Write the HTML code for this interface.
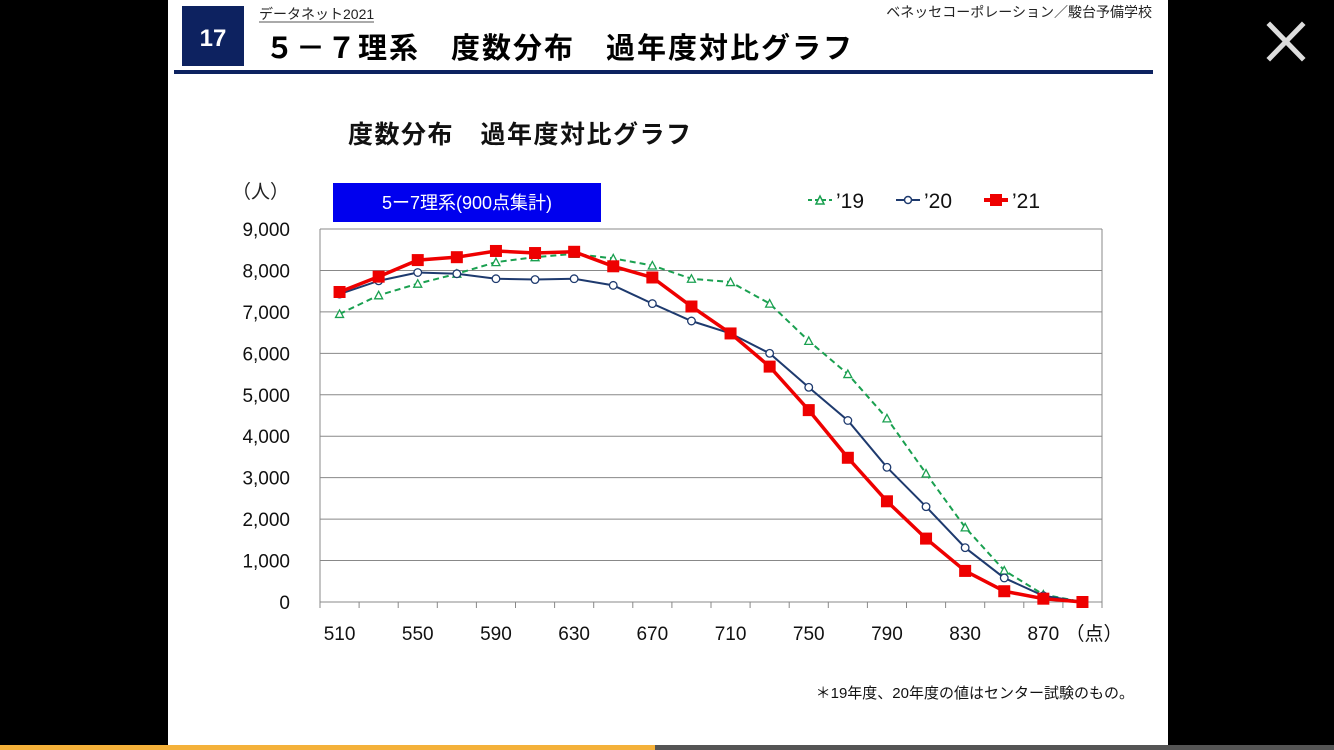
<!DOCTYPE html>
<html><head><meta charset="utf-8"><style>
body{margin:0;width:1334px;height:750px;background:#000;overflow:hidden;font-family:"Liberation Sans","Noto Sans CJK JP",sans-serif;}
</style></head><body>
<svg width="1334" height="750" xmlns="http://www.w3.org/2000/svg" style="position:absolute;left:0;top:0" font-family="Liberation Sans, Noto Sans CJK JP, sans-serif">
<rect x="168" y="0" width="1000" height="750" fill="#fff"/>
<rect x="0" y="745" width="655" height="5" fill="#f4b13a"/>
<rect x="655" y="745" width="679" height="5" fill="#555"/>
<g stroke="#ddd" stroke-width="5" stroke-linecap="square"><line x1="1270" y1="25" x2="1302" y2="58"/><line x1="1302" y1="25" x2="1270" y2="58"/></g>
<rect x="182" y="6" width="62" height="60" fill="#0d2260"/>
<text x="213" y="46" font-size="24" font-weight="bold" fill="#fff" text-anchor="middle">17</text>
<text x="259" y="19" font-size="14" fill="#222">データネット2021</text>
<line x1="259" y1="22" x2="374" y2="22" stroke="#555" stroke-width="1"/>
<text x="1152" y="17" font-size="14" fill="#222" text-anchor="end">ベネッセコーポレーション／駿台予備学校</text>
<text x="265" y="58" font-size="29" font-weight="bold" fill="#000" letter-spacing="2">５－７理系　度数分布　過年度対比グラフ</text>
<rect x="174" y="70" width="979" height="4" fill="#0d2260"/>
<text x="348" y="143" font-size="25" font-weight="bold" fill="#111" letter-spacing="1.5">度数分布　過年度対比グラフ</text>
<text x="232" y="198" font-size="19" fill="#222">（人）</text>
<rect x="333" y="183" width="268" height="39" fill="#0000ee"/>
<text x="467" y="209" font-size="18" fill="#fff" text-anchor="middle">5ー7理系(900点集計)</text>
<g id="leg" font-size="21" fill="#111">
<line x1="808" y1="200" x2="832" y2="200" stroke="#1aa050" stroke-width="2" stroke-dasharray="4,3"/><path d="M816,204 L820,196 L824,204Z" fill="#fff" stroke="#1aa050" stroke-width="1.5"/><text x="836" y="208">’19</text>
<line x1="896" y1="200" x2="920" y2="200" stroke="#1e3a6e" stroke-width="2"/><circle cx="908" cy="200" r="3.5" fill="#fff" stroke="#1e3a6e" stroke-width="1.5"/><text x="924" y="208">’20</text>
<line x1="984" y1="200" x2="1008" y2="200" stroke="#e00" stroke-width="4"/><rect x="990" y="194" width="12" height="12" fill="#e00"/><text x="1012" y="208">’21</text>
</g>
<g id="chart"></g>
<text x="1134" y="698" font-size="15" fill="#111" text-anchor="end">＊19年度、20年度の値はセンター試験のもの。</text>
</svg>
<script>
var g=document.getElementById('chart'),s='';
var X0=320,X1=1102,Y0=602,Y9=229,dy=(Y0-Y9)/9,dx=(X1-X0)/20;
for(var i=0;i<=9;i++){var y=Y0-i*dy;s+='<line x1="'+X0+'" y1="'+y+'" x2="'+X1+'" y2="'+y+'" stroke="#888" stroke-width="1"/>';
s+='<text x="290" y="'+(y+7)+'" font-size="19" fill="#111" text-anchor="end">'+(i==0?'0':i+',000')+'</text>';}
s+='<line x1="'+X0+'" y1="'+Y9+'" x2="'+X0+'" y2="'+Y0+'" stroke="#888"/><line x1="'+X1+'" y1="'+Y9+'" x2="'+X1+'" y2="'+Y0+'" stroke="#888"/>';
for(var i=0;i<=20;i++){var x=X0+i*dx;s+='<line x1="'+x+'" y1="'+Y0+'" x2="'+x+'" y2="'+(Y0+6)+'" stroke="#888"/>';}
for(var i=0;i<10;i++){var x=X0+dx/2+i*2*dx;s+='<text x="'+x+'" y="640" font-size="19" fill="#111" text-anchor="middle">'+(510+40*i)+'</text>';}
s+='<text x="1094" y="640" font-size="19" fill="#111" text-anchor="middle">（点）</text>';
var d19=[6950,7400,7680,7920,8200,8320,8400,8290,8120,7800,7720,7200,6300,5500,4430,3100,1800,760,180,0];
var d20=[7430,7750,7950,7920,7800,7780,7800,7640,7200,6780,6480,6000,5180,4380,3250,2300,1310,580,150,0];
var d21=[7480,7850,8250,8320,8470,8420,8450,8100,7830,7130,6480,5680,4630,3480,2430,1530,750,260,80,0];
function P(d){return d.map(function(v,i){return [X0+dx/2+i*dx,Y0-v/1000*dy]});}
function line(p,c,w,da){return '<polyline fill="none" stroke="'+c+'" stroke-width="'+w+'"'+(da?' stroke-dasharray="'+da+'"':'')+' points="'+p.map(function(q){return q.join(',')}).join(' ')+'"/>';}
var p19=P(d19),p20=P(d20),p21=P(d21);
s+=line(p19,'#1aa050',2,'6,4');p19.forEach(function(q){s+='<path d="M'+(q[0]-4)+','+(q[1]+3.5)+' L'+q[0]+','+(q[1]-4)+' L'+(q[0]+4)+','+(q[1]+3.5)+'Z" fill="#fff" stroke="#1aa050" stroke-width="1.3"/>';});
s+=line(p20,'#1e3a6e',2);p20.forEach(function(q){s+='<circle cx="'+q[0]+'" cy="'+q[1]+'" r="3.8" fill="#fff" stroke="#1e3a6e" stroke-width="1.3"/>';});
s+=line(p21,'#e00',3.5);p21.forEach(function(q){s+='<rect x="'+(q[0]-6)+'" y="'+(q[1]-6)+'" width="12" height="12" fill="#e00"/>';});
g.innerHTML=s;
</script>
</body></html>
